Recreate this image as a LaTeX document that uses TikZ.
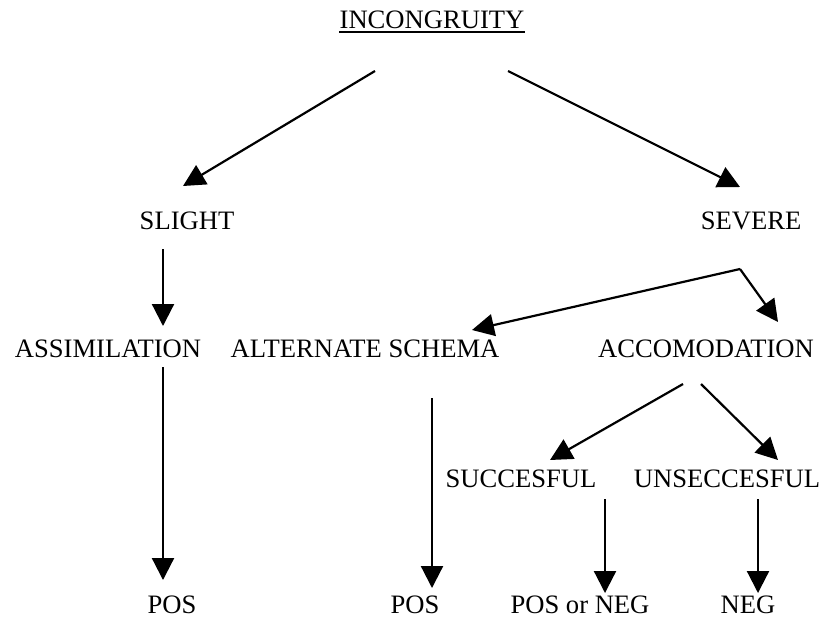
\documentclass[tikz,border=0pt]{standalone}
\usepackage{fontspec}
\setmainfont{Liberation Serif}
\usepackage{tikz}
\usetikzlibrary{arrows.meta}
\tikzstyle{sLabel} = [inner sep=0pt, anchor=base, font=\fontsize{13.3}{15}\selectfont]
\tikzstyle{sArrow} = [line width=1.1pt, -{Triangle[length=11pt, width=11pt]}]

\begin{document}
\begin{tikzpicture}[x=0.5pt, y=-0.5pt]
    \useasboundingbox (0,0) rectangle (823,618);
    \node (incongruity) [sLabel] at (432,28) {INCONGRUITY};
    \node (slight) [sLabel] at (187,229) {SLIGHT};
    \node (severe) [sLabel] at (751,229) {SEVERE};
    \node (assimilation) [sLabel] at (108,357) {ASSIMILATION};
    \node (alternate) [sLabel] at (365,357) {ALTERNATE SCHEMA};
    \node (accomodation) [sLabel] at (706,357) {ACCOMODATION};
    \node (succesful) [sLabel] at (521,487) {SUCCESFUL};
    \node (unsuccesful) [sLabel] at (727,487) {UNSECCESFUL};
    \node (posleft) [sLabel] at (172,613) {POS};
    \node (posmid) [sLabel] at (415,613) {POS};
    \node (posorneg) [sLabel] at (580,613) {POS or NEG};
    \node (neg) [sLabel] at (748,613) {NEG};
    % underline of the title
    \draw [line width=0.9pt] ([yshift=-2pt]incongruity.base west) -- ([yshift=-2pt]incongruity.base east);

    % arrow ends
    \coordinate (incL) at (375,71);
    \coordinate (incR) at (508,71);
    \coordinate (slightIn) at (183,186);
    \coordinate (severeIn) at (740,187);
    \coordinate (slightOut) at (163,249);
    \coordinate (assimIn) at (163,326);
    \coordinate (severeOut) at (740,269);
    \coordinate (altIn) at (472,330);
    \coordinate (accIn) at (778,322);
    \coordinate (assimOut) at (163,367);
    \coordinate (posleftIn) at (163,580);
    \coordinate (altOut) at (432,398);
    \coordinate (posmidIn) at (432,588);
    \coordinate (accOutL) at (683,384);
    \coordinate (accOutR) at (701,384);
    \coordinate (succIn) at (550,460);
    \coordinate (unsuccIn) at (778,460);
    \coordinate (succOut) at (605,499);
    \coordinate (posornegIn) at (605,593);
    \coordinate (unsuccOut) at (758,499);
    \coordinate (negIn) at (758,593);

    \draw [sArrow] (incL) -- (slightIn);
    \draw [sArrow] (incR) -- (severeIn);
    \draw [sArrow] (slightOut) -- (assimIn);
    \draw [sArrow] (severeOut) -- (altIn);
    \draw [sArrow] (severeOut) -- (accIn);
    \draw [sArrow] (assimOut) -- (posleftIn);
    \draw [sArrow] (altOut) -- (posmidIn);
    \draw [sArrow] (accOutL) -- (succIn);
    \draw [sArrow] (accOutR) -- (unsuccIn);
    \draw [sArrow] (succOut) -- (posornegIn);
    \draw [sArrow] (unsuccOut) -- (negIn);
\end{tikzpicture}
\end{document}
